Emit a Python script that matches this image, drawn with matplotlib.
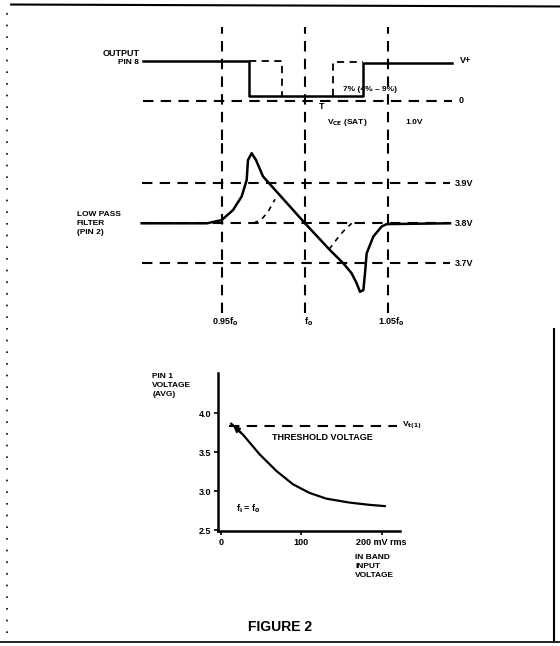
import matplotlib
matplotlib.use("Agg")
import matplotlib.pyplot as plt

plt.rcParams["font.family"] = ["Liberation Sans", "DejaVu Sans"]
plt.rcParams["font.weight"] = "bold"
plt.rcParams["mathtext.default"] = "bf"

W, H = 560, 646

# frequency markers (fraction of f0)
MARK_F = [0.95, 1.00, 1.05]
MARK_LABELS = ["0.95f$_0$", "f$_0$", "1.05f$_0$"]

# output pin 8 (normalised to V+ = 1)
out_f = [0.9028, 0.9664, 0.9664, 1.0348, 1.0348, 1.0882]
out_v = [1.0, 1.0, 0.12, 0.12, 0.96, 0.96]
alt_fall_f = [0.9664, 0.9860, 0.9860]
alt_fall_v = [1.0, 1.0, 0.12]
alt_rise_f = [1.0168, 1.0168, 1.0348]
alt_rise_v = [0.12, 0.97, 0.97]

# low pass filter, pin 2 (volts)
lpf_levels = [3.9, 3.8, 3.7]
lpf_f = [0.902, 0.9412, 0.95, 0.9568, 0.962, 0.965, 0.9658, 0.968, 0.9706,
         0.9748, 1.0, 1.015, 1.023, 1.028, 1.031, 1.033, 1.035, 1.036,
         1.037, 1.041, 1.046, 1.049, 1.087]
lpf_v = [3.80, 3.80, 3.808, 3.833, 3.867, 3.908, 3.958, 3.975, 3.958,
         3.917, 3.80, 3.733, 3.70, 3.675, 3.65, 3.629, 3.633, 3.675,
         3.725, 3.767, 3.792, 3.798, 3.80]
lpf_alt1_f = [0.969, 0.974, 0.978, 0.982]
lpf_alt1_v = [3.80, 3.81, 3.83, 3.86]
lpf_alt2_f = [1.0145, 1.019, 1.023, 1.028]
lpf_alt2_v = [3.735, 3.76, 3.78, 3.80]

# pin 1 voltage vs in-band input
in_mv = [12.5, 27, 48, 69, 89.5, 110, 131, 160, 185, 204]
pin1_v = [3.868, 3.73, 3.474, 3.26, 3.09, 2.98, 2.906, 2.855, 2.826, 2.81]
threshold_v = 3.837
y_ticks = [2.5, 3.0, 3.5, 4.0]
x_ticks = [0, 100, 200]
x_tick_labels = ["0", "100", "200 mV rms"]


def rect(l, t, r, b):
    return [l / W, 1 - b / H, (r - l) / W, (b - t) / H]


fig = plt.figure(figsize=(5.6, 6.46), dpi=100)

DASH = (5, 3.5)
FS = 6.5

# ---- output waveform
ax1 = fig.add_axes(rect(130, 27, 470, 140))
ax1.set_xlim(0.895, 1.099); ax1.set_ylim(-0.99, 1.856)
ax1.axis("off")
for f in MARK_F:
    ax1.axvline(f, color="k", lw=1.5, dashes=DASH)
ax1.plot([out_f[0], out_f[-1]], [0, 0], color="k", lw=1.5, dashes=DASH)
ax1.plot(out_f, out_v, color="k", lw=1.8)
ax1.plot(alt_fall_f, alt_fall_v, color="k", lw=1.3, dashes=(4, 3))
ax1.plot(alt_rise_f, alt_rise_v, color="k", lw=1.3, dashes=(4, 3))
ax1.text(0.9005, 1.2, "OUTPUT", ha="right", va="center", fontsize=FS)
ax1.text(0.9005, 0.95, "PIN 8", ha="right", va="center", fontsize=FS - 0.5)
ax1.text(1.093, 1.0, "V+", ha="left", va="center", fontsize=FS)
ax1.text(1.092, 0.0, "0", ha="left", va="center", fontsize=FS)
ax1.text(1.010, -0.15, "T", ha="center", va="center", fontsize=FS)
ax1.text(1.023, 0.27, "7% (4% – 9%)", ha="left", va="center", fontsize=FS - 0.5)
ax1.text(1.013, -0.56, "V$_{CE}$ (SAT)", ha="left", va="center", fontsize=FS - 0.5)
ax1.text(1.060, -0.56, "1.0V", ha="left", va="center", fontsize=FS - 0.5)

# ---- low pass filter
ax2 = fig.add_axes(rect(130, 140, 470, 313))
ax2.set_xlim(0.895, 1.099); ax2.set_ylim(3.576, 4.008)
ax2.axis("off")
for f in MARK_F:
    ax2.axvline(f, color="k", lw=1.5, dashes=DASH)
for lv in lpf_levels:
    ax2.plot([0.902, 1.087], [lv, lv], color="k", lw=1.5, dashes=DASH)
    ax2.text(1.090, lv, f"{lv:.1f}V", ha="left", va="center", fontsize=FS)
ax2.plot(lpf_f, lpf_v, color="k", lw=1.8)
ax2.plot(lpf_alt1_f, lpf_alt1_v, color="k", lw=1.2, dashes=(3, 3))
ax2.plot(lpf_alt2_f, lpf_alt2_v, color="k", lw=1.2, dashes=(3, 3))
ax2.text(0.863, 3.83, "LOW PASS\nFILTER\n(PIN 2)", ha="left", va="top",
         fontsize=FS - 0.5, linespacing=1.4)
for f, lab in zip(MARK_F, MARK_LABELS):
    ax2.text(f + 0.002, 3.553, lab, ha="center", va="center", fontsize=FS)

# ---- pin 1 voltage vs input
ax3 = fig.add_axes(rect(218, 373, 400, 531))
ax3.set_xlim(-4, 223); ax3.set_ylim(2.49, 4.52)
for s in ["top", "right"]:
    ax3.spines[s].set_visible(False)
for s in ["left", "bottom"]:
    ax3.spines[s].set_linewidth(1.8)
ax3.set_yticks(y_ticks)
ax3.set_yticklabels([f"{v:.1f}" for v in y_ticks])
ax3.set_xticks(x_ticks)
ax3.set_xticklabels(x_tick_labels)
ax3.tick_params(length=3, width=1.2, labelsize=FS, pad=2)
ax3.plot([10, 219], [threshold_v, threshold_v], color="k", lw=1.5, dashes=DASH)
ax3.plot(in_mv, pin1_v, color="k", lw=1.6)
ax3.annotate("", xy=(in_mv[0], pin1_v[0]), xytext=(in_mv[1], pin1_v[1]),
             arrowprops=dict(arrowstyle="-|>", color="k", lw=1.6, mutation_scale=8))
ax3.text(126, 3.69, "THRESHOLD VOLTAGE", ha="center", va="center", fontsize=FS)
ax3.text(225, 3.85, "V$_{t(1)}$", ha="left", va="center", fontsize=FS - 0.5)
ax3.text(19, 2.77, "f$_i$ = f$_0$", ha="left", va="center", fontsize=FS)
ax3.text(-86, 4.52, "PIN 1\nVOLTAGE\n(AVG)", ha="left", va="top",
         fontsize=FS - 0.5, linespacing=1.4)
ax3.text(167, 2.20, "IN BAND\nINPUT\nVOLTAGE", ha="left", va="top",
         fontsize=FS - 0.5, linespacing=1.4)

fig.text(280 / W, 1 - 627 / H, "FIGURE 2", ha="center", va="center", fontsize=10)

# scan border
bg = fig.add_axes([0, 0, 1, 1], zorder=-1)
bg.set_xlim(0, 1); bg.set_ylim(0, 1); bg.axis("off")
bg.plot([0.02, 1.0], [0.993, 0.990], color="k", lw=1.5)
bg.plot([0.0, 1.0], [0.006, 0.006], color="k", lw=1.2)
bg.plot([0.012, 0.012], [0.02, 0.99], color="k", lw=1.2, ls=(0, (1, 6)))
bg.plot([0.99, 0.99], [0.01, 0.49], color="k", lw=1.5)

fig.savefig("out.png", dpi=100)
